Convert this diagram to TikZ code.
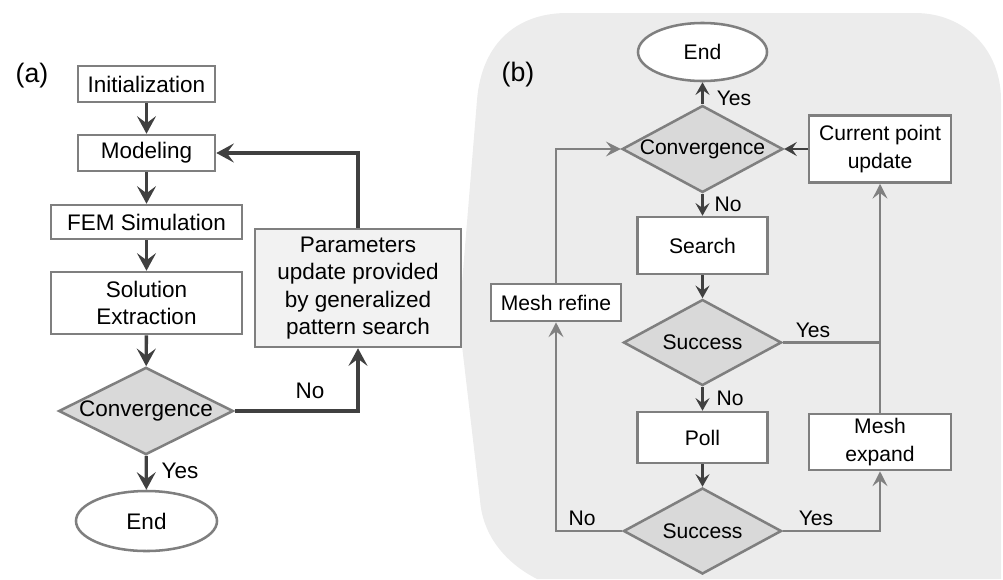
\documentclass[tikz,border=0pt]{standalone}
\usepackage{fontspec}
\setmainfont{Liberation Sans}
\usetikzlibrary{arrows.meta, shapes.geometric, positioning}

\definecolor{boxline}{HTML}{7F7F7F}
\definecolor{darkline}{HTML}{404040}
\definecolor{grayline}{HTML}{808080}
\definecolor{decfill}{HTML}{D9D9D9}
\definecolor{paramfill}{HTML}{F2F2F2}
\definecolor{panelfill}{HTML}{ECECEC}

\begin{document}
\begin{tikzpicture}[x=0.025cm, y=-0.025cm]
    \tikzstyle{procbox}=[draw=boxline, line width=1.8pt, fill=white, rectangle, inner sep=0pt, align=center, font=\fontsize{16}{19.4}\selectfont]
    \tikzstyle{procboxb}=[procbox, font=\fontsize{15}{19.8}\selectfont]
    \tikzstyle{decbox}=[draw=boxline, line width=1.8pt, fill=decfill, diamond, aspect=2, inner sep=0pt, font=\fontsize{16}{19}\selectfont]
    \tikzstyle{decboxb}=[decbox, aspect=1.85, font=\fontsize{15}{18}\selectfont]
    \tikzstyle{endbox}=[draw=boxline, line width=1.8pt, fill=white, ellipse, inner sep=0pt, font=\fontsize{16}{19}\selectfont]
    \tikzstyle{lbl}=[inner sep=0pt, font=\fontsize{16}{19}\selectfont]
    \tikzstyle{lblb}=[inner sep=0pt, font=\fontsize{15}{18}\selectfont]
    \tikzstyle{partlbl}=[inner sep=0pt, font=\fontsize{19}{22}\selectfont]
    \tikzstyle{darrow}=[draw=darkline, line width=2.4pt, -{Stealth[length=12.5pt, width=13.5pt, inset=5pt]}]
    \tikzstyle{darrowb}=[draw=darkline, line width=2pt, -{Stealth[length=9pt, width=10pt, inset=3.5pt]}]
    \tikzstyle{garrow}=[draw=grayline, line width=1.8pt, -{Stealth[length=10.5pt, width=10.5pt, inset=4pt]}]
    \tikzstyle{gline}=[draw=grayline, line width=1.8pt]

    \useasboundingbox (0,0) rectangle (1003,579);

    % Zoom panel behind (b)
    \fill[panelfill] (537,579) .. controls (500,560) and (482,530) .. (480,500)
        -- (459,320) -- (477,100) .. controls (482,40) and (520,13) .. (567,13)
        -- (915,13) .. controls (965,13) and (1001,50) .. (1001,100) -- (1001,579) -- cycle;

    % (a) Optimization loop
    \node[partlbl] (lbl_a) at (32,76) {(a)};
    \node[procbox, minimum width=3.425cm, minimum height=0.9cm] (init) at (146.5,84) {Initialization};
    \node[procbox, minimum width=3.425cm, minimum height=0.9cm] (model) at (146.5,153) {Modeling};
    \node[procbox, minimum width=4.775cm, minimum height=0.85cm] (fem) at (146.5,222) {FEM Simulation};
    \node[procbox, minimum width=4.775cm, minimum height=1.55cm] (solext) at (146.5,303) {Solution\\Extraction};
    \node[decbox, minimum width=4.25cm, minimum height=2.1cm] (conv_a) at (146,411) {Convergence};
    \node[endbox, minimum width=3.525cm, minimum height=1.5cm] (end_a) at (146.5,521) {End};
    \node[procbox, fill=paramfill, minimum width=5.15cm, minimum height=2.95cm] (param) at (358,288) {Parameters\\update provided\\by generalized\\pattern search};

    \node[lbl] (no_a) at (310,391) {No};
    \node[lbl] (yes_a) at (180,471) {Yes};

    \draw[darrow] (init) -- (model);
    \draw[darrow] (model) -- (fem);
    \draw[darrow] (fem) -- (solext);
    \draw[darrow] (solext) -- (conv_a);
    \draw[darrow] (conv_a) -- (end_a);
    \draw[darrow] (conv_a.east) -| (param.south);
    \draw[darrow] (param.north) |- (model.east);

    % (b) Generalized pattern search
    \node[partlbl] (lbl_b) at (518,75) {(b)};
    \node[endbox, minimum width=3.225cm, minimum height=1.45cm, font=\fontsize{15}{18}\selectfont] (end_b) at (702.5,52) {End};
    \node[decboxb, minimum width=3.95cm, minimum height=2.1cm] (conv_b) at (702.5,149) {Convergence};
    \node[procboxb, minimum width=3.55cm, minimum height=1.675cm] (cpu) at (880,149) {Current point\\update};
    \node[procboxb, minimum width=3.25cm, minimum height=1.425cm] (search) at (702.5,245.5) {Search};
    \node[procboxb, minimum width=3.25cm, minimum height=0.925cm] (refine) at (556,302.5) {Mesh refine};
    \node[decboxb, minimum width=3.95cm, minimum height=2.15cm] (succ1) at (702.5,342.5) {Success};
    \node[procboxb, minimum width=3.25cm, minimum height=1.275cm] (poll) at (702.5,437.5) {Poll};
    \node[procboxb, minimum width=3.55cm, minimum height=1.4cm] (expand) at (880,442) {Mesh\\expand};
    \node[decboxb, minimum width=3.95cm, minimum height=2.15cm] (succ2) at (702.5,531) {Success};

    \node[lblb] (yes_b1) at (734,98) {Yes};
    \node[lblb] (no_b1) at (728,204) {No};
    \node[lblb] (yes_b2) at (813,330) {Yes};
    \node[lblb] (no_b2) at (730,398) {No};
    \node[lblb] (no_b3) at (582,518) {No};
    \node[lblb] (yes_b3) at (816,518) {Yes};

    \coordinate (join) at (succ1.east -| expand.north);

    \draw[darrowb] (conv_b) -- (end_b);
    \draw[darrowb] (conv_b) -- (search);
    \draw[darrowb] (search) -- (succ1);
    \draw[darrowb] (succ1) -- (poll);
    \draw[darrowb] (poll) -- (succ2);
    \draw[darrowb] (cpu) -- (conv_b);
    \draw[garrow] (refine.north) |- (conv_b.west);
    \draw[garrow] (succ2.west) -| (refine.south);
    \draw[garrow] (succ2.east) -| (expand.south);
    \draw[garrow] (expand.north) -- (cpu.south);
    \draw[gline] (succ1.east) -- (join);
\end{tikzpicture}
\end{document}
